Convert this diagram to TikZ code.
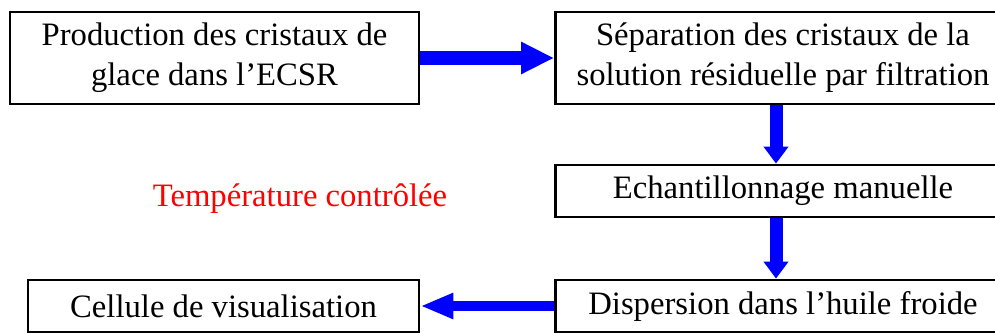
\documentclass[tikz,border=0pt]{standalone}
\usepackage{fontspec}
\setmainfont{Liberation Serif}
\usepackage{tikz}
\usetikzlibrary{arrows.meta}
\tikzstyle{etape} = [draw, line width=1.6pt, fill=white, align=center, inner sep=0pt, font=\fontsize{18.6}{22.8}\selectfont]
\tikzstyle{fleche} = [draw=blue, line width=8pt, -{Triangle[length=0.66cm, width=0.6cm]}, color=blue]
\tikzstyle{flechev} = [draw=blue, line width=7.4pt, -{Triangle[length=0.34cm, width=0.48cm]}, color=blue]

\begin{document}
\begin{tikzpicture}[x=0.02cm, y=-0.02cm]
	\useasboundingbox (0,0) rectangle (995,333);
	\clip (0,0) rectangle (995,333);
	% -------------- Etapes --------------
	\node[etape, minimum width=8.18cm, minimum height=1.84cm] (prod) at (214.5,58) {Production des cristaux de\\glace dans l'ECSR};
	\node[etape, minimum width=9.1cm, minimum height=1.84cm] (sep)  at (783,58)   {Séparation des cristaux de la\\solution résiduelle par filtration};
	\node[etape, minimum width=9.1cm, minimum height=1.04cm] (ech)  at (783,191)  {Echantillonnage manuelle};
	\node[etape, minimum width=9.1cm, minimum height=1.04cm] (disp) at (783,306)  {Dispersion dans l'huile froide};
	\node[etape, minimum width=7.82cm, minimum height=1.04cm] (cell) at (223.5,306) {Cellule de visualisation};
	% -------------- Texte --------------
	\node[anchor=base, text=red, font=\fontsize{18.6}{22.8}\selectfont] (temp) at (300,207) {Température contrôlée};
	% -------------- Fleches --------------
	\draw[fleche]  (prod.east)  -- (sep.west);
	\draw[flechev] ([xshift=-0.14cm]sep.south)  -- ([xshift=-0.14cm]ech.north);
	\draw[flechev] ([xshift=-0.14cm]ech.south)  -- ([xshift=-0.14cm]disp.north);
	\draw[draw=blue, line width=6.2pt, -{Triangle[length=0.66cm, width=0.48cm]}, color=blue] (disp.west) -- (cell.east);
\end{tikzpicture}
\end{document}
